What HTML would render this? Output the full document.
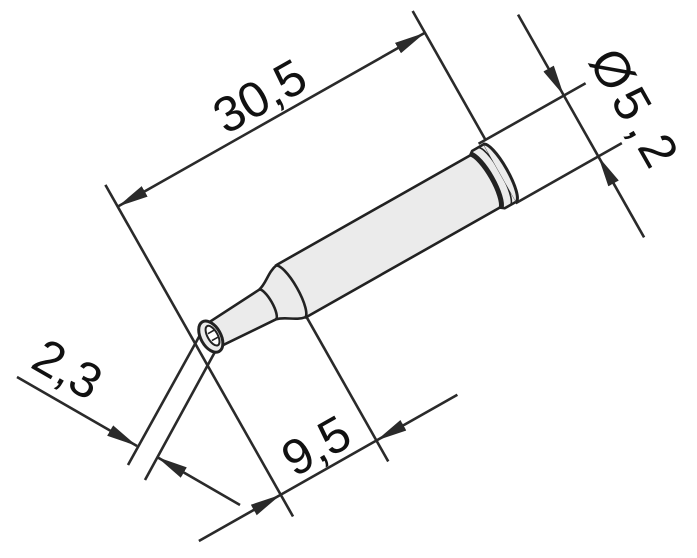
<!DOCTYPE html>
<html><head><meta charset="utf-8"><style>
html,body{margin:0;padding:0;background:#fff;}
svg{display:block;}
text{font-family:"Liberation Sans",sans-serif;fill:#111;}
</style></head><body>
<svg width="697" height="558" viewBox="0 0 697 558" xmlns="http://www.w3.org/2000/svg">
<defs>
<marker id="ar" markerWidth="32" markerHeight="14" refX="31" refY="7" orient="auto-start-reverse" markerUnits="userSpaceOnUse">
<path d="M0,1 L31,7 L0,13 Z" fill="#2a2a2a"/>
</marker>
</defs>
<g stroke="#2a2a2a" stroke-width="2.6" fill="none" stroke-linecap="butt">
<line x1="128" y1="465" x2="200" y2="335"/>
<line x1="145" y1="480" x2="216" y2="350"/>
<line x1="17" y1="377" x2="137" y2="446" marker-end="url(#ar)"/>
<line x1="240" y1="505" x2="157" y2="457" marker-end="url(#ar)"/>
</g>
<text transform="translate(59,384) rotate(30)" text-anchor="middle" font-size="50">2,3</text>

<g transform="translate(196,345) rotate(-29.5)">
  <g stroke="#2a2a2a" stroke-width="2.6" fill="none">
    <line x1="0" y1="-184" x2="0" y2="197"/>
    <line x1="353" y1="-184" x2="353" y2="-36"/>
    <line x1="110" y1="2" x2="110" y2="196"/>
    <line x1="345" y1="-36" x2="468" y2="-36"/>
    <line x1="348" y1="34" x2="470" y2="34"/>
    <line x1="0" y1="-159" x2="353" y2="-159" marker-start="url(#ar)" marker-end="url(#ar)"/>
    <line x1="-94" y1="172" x2="0" y2="172" marker-end="url(#ar)"/>
    <line x1="203" y1="172" x2="110" y2="172" marker-end="url(#ar)"/>
    <line x1="0" y1="172" x2="110" y2="172"/>
    <line x1="443" y1="-129" x2="443" y2="-36" marker-end="url(#ar)"/>
    <line x1="443" y1="127" x2="443" y2="34" marker-end="url(#ar)"/>
    <line x1="443" y1="-36" x2="443" y2="34"/>
  </g>
  <g stroke="#222" stroke-width="2.6" stroke-linejoin="round">
    <path d="M17,-13 L82,-17 C92,-19 98,-28 110,-30 L332,-30 L336,-33 L350,-33 L350,33 L336,33 L332,30 L110,30 C98,28 92,19 82,17 L17,13 Z" fill="#ebebeb"/>
    <path d="M82,-17 A5,17 0 0 1 82,17" fill="none"/>
    <path d="M108,-30 A8,30 0 0 1 108,30" fill="none"/>
    <path d="M333,-31 A9,32 0 0 1 333,31" fill="none" stroke-width="5"/>
    <path d="M342,-33 A8,33 0 0 1 342,33" fill="none" stroke-width="1.6"/>
    <path d="M349,-33 A8,33 0 0 1 349,33" fill="#ebebeb" stroke-width="3"/>
    <ellipse cx="17" cy="0" rx="10" ry="17" fill="#ebebeb" stroke-width="3"/>
    <ellipse cx="19" cy="0" rx="5" ry="11" fill="#fff" stroke-width="2"/>
    <line x1="16" y1="-4" x2="23" y2="-4" stroke-width="1.6"/>
    <line x1="16" y1="4" x2="23" y2="4" stroke-width="1.6"/>
  </g>
  <text x="178" y="-168" text-anchor="middle" font-size="50">30,5</text>
  <text x="55" y="164" text-anchor="middle" font-size="50">9,5</text>
  <text transform="translate(481,12) rotate(90)" text-anchor="middle" font-size="50" letter-spacing="6">Ø5,2</text>
</g>
</svg>
</body></html>
